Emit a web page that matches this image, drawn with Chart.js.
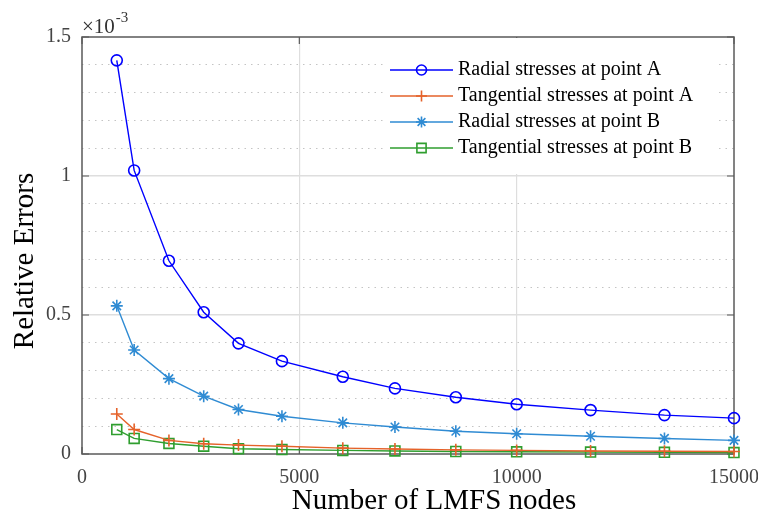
<!DOCTYPE html>
<html>
<head>
  <title>Relative errors vs LMFS nodes</title>
  <script src="https://cdn.jsdelivr.net/npm/chart.js"></script>
  <style>
    body { margin: 0; background: #fff; }
  </style>
</head>
<body>
  <canvas id="myChart" width="758" height="517"></canvas>

  <script>
    // values, y values in units of 1e-3
    const nodes = [800, 1200, 2000, 2800, 3600, 4600, 6000, 7200, 8600, 10000, 11700, 13400, 15000];
    const radialA = [1.416, 1.020, 0.695, 0.510, 0.398, 0.334, 0.278, 0.236, 0.204, 0.179, 0.158, 0.140, 0.129];
    const tangentialA = [0.144, 0.088, 0.049, 0.037, 0.032, 0.028, 0.021, 0.018, 0.015, 0.013, 0.011, 0.010, 0.009];
    const radialB = [0.533, 0.374, 0.271, 0.208, 0.160, 0.136, 0.112, 0.097, 0.082, 0.073, 0.064, 0.056, 0.049];
    const tangentialB = [0.088, 0.056, 0.038, 0.028, 0.019, 0.016, 0.013, 0.011, 0.009, 0.008, 0.007, 0.006, 0.005];
    const seriesNames = [
      'Radial stresses at point A',
      'Tangential stresses at point A',
      'Radial stresses at point B',
      'Tangential stresses at point B'
    ];
    const xTicks = [0, 5000, 10000, 15000];
    const yTicks = [0, 0.5, 1, 1.5];

    const SERIF = '"Liberation Serif", "Times New Roman", serif';

    function toPoints(ys) {
      return ys.map((y, i) => ({ x: nodes[i], y: y }));
    }

    function series(label, ys, color, style, radius) {
      return {
        label: label,
        data: toPoints(ys),
        borderColor: color,
        backgroundColor: 'rgba(0,0,0,0)',
        borderWidth: 1.4,
        pointStyle: style,
        pointRadius: radius,
        pointBorderColor: color,
        pointBackgroundColor: 'rgba(0,0,0,0)',
        pointBorderWidth: 1.6,
        tension: 0,
        clip: false
      };
    }

    const isMajorY = v => Math.abs(v * 2 - Math.round(v * 2)) < 1e-6;

    // MATLAB-like box, inward ticks, exponent label, axis titles and legend
    const decorations = {
      id: 'decorations',
      beforeDatasetsDraw(chart) {
        const ctx = chart.ctx;
        const a = chart.chartArea;
        const xs = chart.scales.x, ys = chart.scales.y;
        ctx.save();
        ctx.strokeStyle = '#5a5a5a';
        ctx.lineWidth = 1.5;
        ctx.strokeRect(a.left, a.top, a.right - a.left, a.bottom - a.top);
        ctx.lineWidth = 1.2;
        ctx.beginPath();
        xTicks.forEach(v => {
          const px = xs.getPixelForValue(v);
          ctx.moveTo(px, a.bottom); ctx.lineTo(px, a.bottom - 7);
          ctx.moveTo(px, a.top); ctx.lineTo(px, a.top + 7);
        });
        yTicks.forEach(v => {
          const py = ys.getPixelForValue(v);
          ctx.moveTo(a.left, py); ctx.lineTo(a.left + 7, py);
          ctx.moveTo(a.right, py); ctx.lineTo(a.right - 7, py);
        });
        ctx.stroke();
        ctx.restore();
      },
      afterDatasetsDraw(chart) {
        const ctx = chart.ctx;
        const a = chart.chartArea;
        ctx.save();

        // exponent
        ctx.fillStyle = '#333';
        ctx.textBaseline = 'alphabetic';
        ctx.textAlign = 'left';
        ctx.font = '21px ' + SERIF;
        ctx.fillText('\u00d710', a.left, 33);
        const w = ctx.measureText('\u00d710').width;
        ctx.font = '15px ' + SERIF;
        ctx.fillText('-3', a.left + w + 1, 22);

        // axis titles
        ctx.fillStyle = '#000';
        ctx.font = '29px ' + SERIF;
        ctx.textAlign = 'center';
        ctx.fillText('Number of LMFS nodes', 434, 509);
        ctx.save();
        ctx.translate(33, 261);
        ctx.rotate(-Math.PI / 2);
        ctx.fillText('Relative Errors', 0, 0);
        ctx.restore();

        // legend
        ctx.fillStyle = '#fff';
        ctx.fillRect(384, a.top + 1, 334, 136);
        const drawPoint = Chart.helpers && Chart.helpers.drawPoint;
        chart.data.datasets.forEach((ds, i) => {
          const y = 70 + i * 26;
          ctx.strokeStyle = ds.borderColor;
          ctx.lineWidth = ds.borderWidth;
          ctx.beginPath();
          ctx.moveTo(390, y);
          ctx.lineTo(453, y);
          ctx.stroke();
          if (drawPoint) {
            ctx.fillStyle = 'rgba(0,0,0,0)';
            ctx.lineWidth = ds.pointBorderWidth;
            drawPoint(ctx, { pointStyle: ds.pointStyle, radius: ds.pointRadius - 0.5, rotation: 0, borderWidth: ds.pointBorderWidth }, 421.5, y);
          }
          ctx.fillStyle = '#000';
          ctx.textAlign = 'left';
          ctx.textBaseline = 'middle';
          ctx.font = '20px ' + SERIF;
          ctx.fillText(ds.label, 458, y);
        });
        ctx.restore();
      }
    };

    const ctx = document.getElementById('myChart').getContext('2d');
    const myChart = new Chart(ctx, {
      type: 'line',
      data: {
        datasets: [
          series(seriesNames[0], radialA, '#0000ff', 'circle', 5.5),
          series(seriesNames[1], tangentialA, '#e5622a', 'cross', 6),
          series(seriesNames[2], radialB, '#2f8bd3', 'star', 6),
          series(seriesNames[3], tangentialB, '#2f9e2f', 'rect', 7)
        ]
      },
      options: {
        responsive: false,
        animation: false,
        layout: { padding: { top: 37, right: 24, left: 0, bottom: 0 } },
        plugins: {
          legend: { display: false },
          tooltip: { enabled: false }
        },
        scales: {
          x: {
            type: 'linear',
            min: 0,
            max: 15000,
            afterFit: s => { s.height = 63; s.paddingLeft = 0; s.paddingRight = 0; },
            afterBuildTicks: s => { s.ticks = xTicks.map(v => ({ value: v })); },
            ticks: {
              autoSkip: false,
              maxRotation: 0,
              padding: 12,
              color: '#444',
              font: { family: SERIF, size: 20 },
              callback: v => String(v)
            },
            grid: {
              drawTicks: false,
              lineWidth: 1.2,
              color: c => (c.tick && (c.tick.value === 5000 || c.tick.value === 10000)) ? '#dedede' : 'rgba(0,0,0,0)'
            },
            border: { display: false }
          },
          y: {
            type: 'linear',
            min: 0,
            max: 1.5,
            afterFit: s => { s.width = 82; s.paddingTop = 0; s.paddingBottom = 0; },
            ticks: {
              stepSize: 0.1,
              autoSkip: false,
              padding: 11,
              color: '#444',
              font: { family: SERIF, size: 20 },
              callback: v => isMajorY(v) ? String(Math.round(v * 2) / 2) : ''
            },
            grid: {
              drawTicks: false,
              lineWidth: c => (c.tick && isMajorY(c.tick.value)) ? 1.4 : 1,
              color: c => {
                if (!c.tick) return 'rgba(0,0,0,0)';
                const v = c.tick.value;
                if (v < 1e-6 || v > 1.5 - 1e-6) return 'rgba(0,0,0,0)';
                return isMajorY(v) ? '#dedede' : '#c4c4c4';
              }
            },
            border: {
              display: false,
              dash: c => (c.tick && isMajorY(c.tick.value)) ? [] : [1.5, 5]
            }
          }
        }
      },
      plugins: [decorations]
    });
  </script>
</body>
</html>
